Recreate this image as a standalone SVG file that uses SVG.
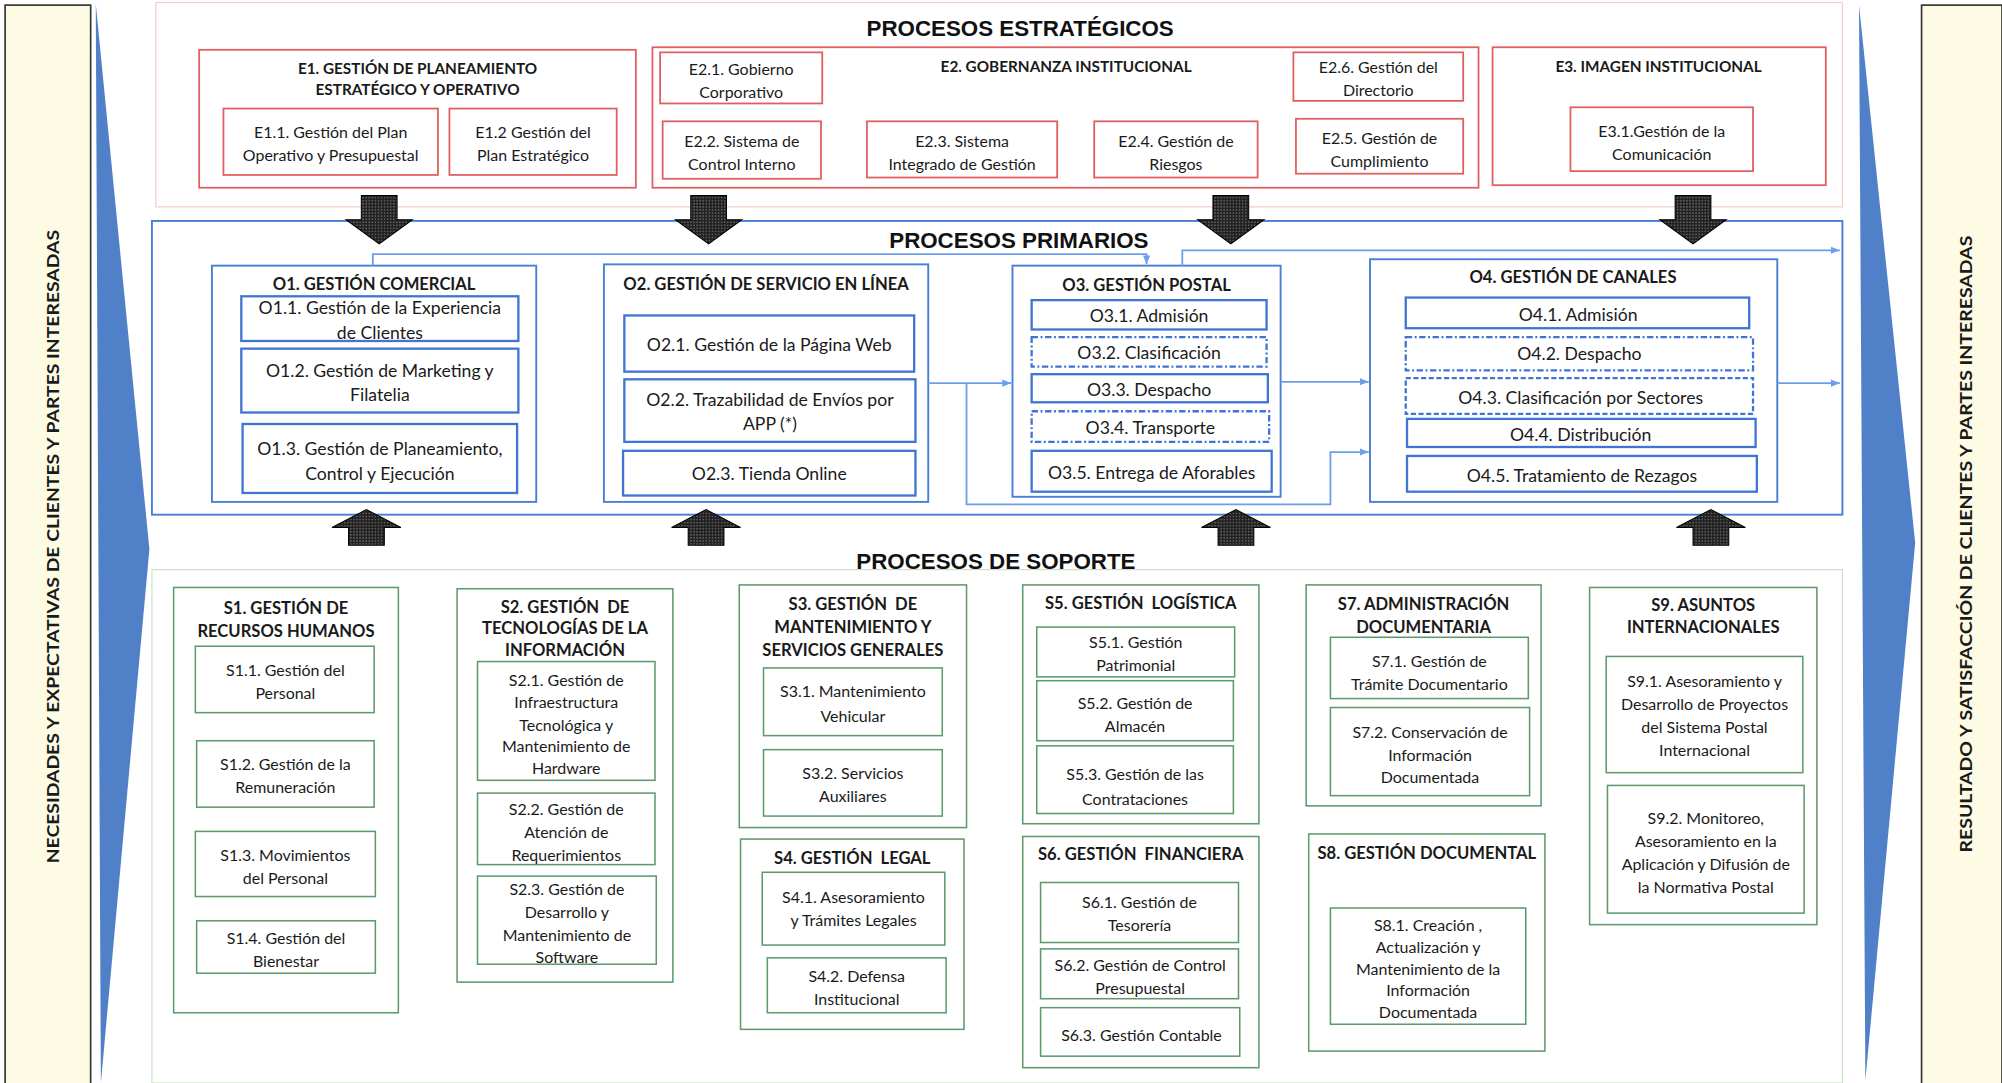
<svg xmlns="http://www.w3.org/2000/svg" width="2002" height="1083" viewBox="0 0 2002 1083">
<defs>
<style>
text{font-family:Lato,"Open Sans","Liberation Sans",sans-serif;text-anchor:middle;dominant-baseline:central;fill:#1a1a1a;font-size:12px}
.h{font-family:"Liberation Sans",Arial,sans-serif;font-weight:bold;font-size:17.5px;fill:#111}
.et{font-weight:bold;font-size:12px}
.e{font-size:12.5px}
.ot{font-weight:bold;font-size:13px}
.o{font-size:13.8px}
.st{font-weight:bold;font-size:13px}
.s{font-size:12.5px}
.side{font-weight:bold;font-size:14px}
.red{fill:#fff;stroke:#e25f5f;stroke-width:1.4}
.redo{fill:#fff;stroke:#f2d2c8;stroke-width:1}
.blue{fill:#fff;stroke:#4a7fd8;stroke-width:1.5}
.bsub{fill:#fff;stroke:#3f74d4;stroke-width:1.8}
.dd{stroke-dasharray:5 2 1.5 2}
.da{stroke-dasharray:4 2}
.green{fill:#fff;stroke:#5c9a6c;stroke-width:1.2}
.greeno{fill:#fff;stroke:#cfe3ca;stroke-width:1}
.sidebox{fill:#fdfbe4;stroke:#333;stroke-width:1.3}
.tri{fill:#4f80c8}
.big{fill:url(#dots);stroke:#000;stroke-width:0.8}
.con{fill:none;stroke:#6d9eeb;stroke-width:1.4}
</style>
<pattern id="dots" width="2.4" height="2.4" patternUnits="userSpaceOnUse"><rect width="2.4" height="2.4" fill="#222"/><circle cx="1.2" cy="1.2" r="0.5" fill="#a8a8a8"/></pattern>
<marker id="ah" viewBox="0 0 10 10" refX="10" refY="5" markerWidth="7" markerHeight="7" orient="auto" markerUnits="userSpaceOnUse"><path d="M0,1 L10,5 L0,9 z" fill="#6d9eeb"/></marker>
</defs>
<rect width="2002" height="1083" fill="#fff"/>
<g transform="scale(1.27679,1.27712)">

<g id="side-left">
<rect class="sidebox" x="4" y="4" width="67" height="850"/>
<text class="side" transform="translate(41,428) rotate(-90)" textLength="496" lengthAdjust="spacingAndGlyphs">NECESIDADES Y EXPECTATIVAS DE CLIENTES Y PARTES INTERESADAS</text>
</g>
<g id="side-right">
<rect class="sidebox" x="1505" y="4" width="63" height="850"/>
<text class="side" transform="translate(1539,426) rotate(-90)" textLength="483" lengthAdjust="spacingAndGlyphs">RESULTADO Y SATISFACCIÓN DE CLIENTES Y PARTES INTERESADAS</text>
</g>
<polygon id="flow-left" class="tri" points="75,3 117,430 79,848"/>
<polygon id="flow-right" class="tri" points="1456,4 1500,425 1461,846"/>

<!-- STRATEGIC -->
<g id="estrategicos">
<rect class="redo" x="122" y="2" width="1321" height="160"/>
<text class="h" x="799" y="22">PROCESOS ESTRATÉGICOS</text>
</g>
<g id="E1">
<rect class="red" x="156" y="39" width="342" height="108"/>
<text class="et" x="327" y="53">E1. GESTIÓN DE PLANEAMIENTO</text>
<text class="et" x="327" y="70">ESTRATÉGICO Y OPERATIVO</text>
</g>
<g id="E1-1"><rect class="red" x="175" y="85" width="168" height="52"/><text class="e" x="259" y="103">E1.1. Gestión del Plan</text><text class="e" x="259" y="121">Operativo y Presupuestal</text></g>
<g id="E1-2"><rect class="red" x="352" y="85" width="131" height="52"/><text class="e" x="417.5" y="103">E1.2 Gestión del</text><text class="e" x="417.5" y="121">Plan Estratégico</text></g>
<g id="E2">
<rect class="red" x="511" y="37" width="647" height="110"/>
<text class="et" x="835" y="52">E2. GOBERNANZA INSTITUCIONAL</text>
</g>
<g id="E2-1"><rect class="red" x="517" y="41" width="127" height="40"/><text class="e" x="580.5" y="54">E2.1. Gobierno</text><text class="e" x="580.5" y="72">Corporativo</text></g>
<g id="E2-2"><rect class="red" x="519" y="95" width="124" height="45"/><text class="e" x="581" y="110">E2.2. Sistema de</text><text class="e" x="581" y="128">Control Interno</text></g>
<g id="E2-3"><rect class="red" x="679" y="95" width="149" height="44"/><text class="e" x="753.5" y="110">E2.3. Sistema</text><text class="e" x="753.5" y="128">Integrado de Gestión</text></g>
<g id="E2-4"><rect class="red" x="857" y="95" width="128" height="44"/><text class="e" x="921" y="110">E2.4. Gestión de</text><text class="e" x="921" y="128">Riesgos</text></g>
<g id="E2-6"><rect class="red" x="1013" y="41" width="133" height="38"/><text class="e" x="1079.5" y="52">E2.6. Gestión del</text><text class="e" x="1079.5" y="70">Directorio</text></g>
<g id="E2-5"><rect class="red" x="1015" y="93" width="131" height="43"/><text class="e" x="1080.5" y="108">E2.5. Gestión de</text><text class="e" x="1080.5" y="126">Cumplimiento</text></g>
<g id="E3">
<rect class="red" x="1169" y="37" width="261" height="108"/>
<text class="et" x="1299" y="52">E3. IMAGEN INSTITUCIONAL</text>
</g>
<g id="E3-1"><rect class="red" x="1230" y="84" width="143" height="50"/><text class="e" x="1301.5" y="102">E3.1.Gestión de la</text><text class="e" x="1301.5" y="120">Comunicación</text></g>

<!-- PRIMARY -->
<g id="primarios">
<rect class="blue" x="119" y="173" width="1324" height="230"/>
<text class="h" x="798" y="188">PROCESOS PRIMARIOS</text>
</g>
<g id="O1">
<rect class="blue" x="166" y="208" width="254" height="185"/>
<text class="ot" x="293" y="222">O1. GESTIÓN COMERCIAL</text>
</g>
<g id="O1-1"><rect class="bsub" x="189" y="232" width="217" height="35"/><text class="o" x="297.5" y="241">O1.1. Gestión de la Experiencia</text><text class="o" x="297.5" y="260">de Clientes</text></g>
<g id="O1-2"><rect class="bsub" x="189" y="273" width="217" height="50"/><text class="o" x="297.5" y="290">O1.2. Gestión de Marketing y</text><text class="o" x="297.5" y="309">Filatelia</text></g>
<g id="O1-3"><rect class="bsub" x="190" y="332" width="215" height="54"/><text class="o" x="297.5" y="351">O1.3. Gestión de Planeamiento,</text><text class="o" x="297.5" y="371">Control y Ejecución</text></g>
<g id="O2">
<rect class="blue" x="473" y="207" width="254" height="186"/>
<text class="ot" x="600" y="222">O2. GESTIÓN DE SERVICIO EN LÍNEA</text>
</g>
<g id="O2-1"><rect class="bsub" x="489" y="247" width="227" height="44"/><text class="o" x="602.5" y="270">O2.1. Gestión de la Página Web</text></g>
<g id="O2-2"><rect class="bsub" x="489" y="297" width="228" height="49"/><text class="o" x="603" y="313">O2.2. Trazabilidad de Envíos por</text><text class="o" x="603" y="332">APP (*)</text></g>
<g id="O2-3"><rect class="bsub" x="488" y="353" width="229" height="35"/><text class="o" x="602.5" y="371">O2.3. Tienda Online</text></g>
<g id="O3">
<rect class="blue" x="793" y="208" width="210" height="181"/>
<text class="ot" x="898" y="223">O3. GESTIÓN POSTAL</text>
</g>
<g id="O3-1"><rect class="bsub" x="808" y="235" width="184" height="23"/><text class="o" x="900" y="247">O3.1. Admisión</text></g>
<g id="O3-2"><rect class="bsub dd" x="808" y="264" width="184" height="23"/><text class="o" x="900" y="276">O3.2. Clasificación</text></g>
<g id="O3-3"><rect class="bsub" x="808" y="293" width="185" height="22"/><text class="o" x="900" y="305">O3.3. Despacho</text></g>
<g id="O3-4"><rect class="bsub dd" x="808" y="322" width="186" height="24"/><text class="o" x="901" y="335">O3.4. Transporte</text></g>
<g id="O3-5"><rect class="bsub" x="808" y="353" width="188" height="32"/><text class="o" x="902" y="370">O3.5. Entrega de Aforables</text></g>
<g id="O4">
<rect class="blue" x="1073" y="203" width="319" height="190"/>
<text class="ot" x="1232" y="217">O4. GESTIÓN DE CANALES</text>
</g>
<g id="O4-1"><rect class="bsub" x="1101" y="233" width="269" height="24"/><text class="o" x="1236" y="246">O4.1. Admisión</text></g>
<g id="O4-2"><rect class="bsub dd" x="1101" y="264" width="272" height="26"/><text class="o" x="1237" y="277">O4.2. Despacho</text></g>
<g id="O4-3"><rect class="bsub da" x="1101" y="296" width="272" height="28"/><text class="o" x="1238" y="311">O4.3. Clasificación por Sectores</text></g>
<g id="O4-4"><rect class="bsub" x="1102" y="328" width="273" height="22"/><text class="o" x="1238" y="340">O4.4. Distribución</text></g>
<g id="O4-5"><rect class="bsub" x="1102" y="357" width="274" height="28"/><text class="o" x="1239" y="372">O4.5. Tratamiento de Rezagos</text></g>

<g id="connectors">
<path class="con" d="M292,208 V199 H898 V207" marker-end="url(#ah)"/>
<path class="con" d="M926,208 V196 H1441" marker-end="url(#ah)"/>
<path class="con" d="M727,300 H792" marker-end="url(#ah)"/>
<path class="con" d="M757,300 V395 H1042 V354 H1072" marker-end="url(#ah)"/>
<path class="con" d="M1003,299 H1072" marker-end="url(#ah)"/>
<path class="con" d="M1392,300 H1441" marker-end="url(#ah)"/>
</g>

<!-- SUPPORT -->
<g id="soporte">
<rect class="greeno" x="119" y="446" width="1324" height="402"/>
<text class="h" x="780" y="440">PROCESOS DE SOPORTE</text>
</g>
<g id="S1">
<rect class="green" x="136" y="460" width="176" height="333"/>
<text class="st" x="224" y="476">S1. GESTIÓN DE</text>
<text class="st" x="224" y="494">RECURSOS HUMANOS</text>
</g>
<g id="S1-1"><rect class="green" x="153" y="506" width="140" height="52"/><text class="s" x="223.5" y="524">S1.1. Gestión del</text><text class="s" x="223.5" y="542">Personal</text></g>
<g id="S1-2"><rect class="green" x="154" y="580" width="139" height="52"/><text class="s" x="223.5" y="598">S1.2. Gestión de la</text><text class="s" x="223.5" y="616">Remuneración</text></g>
<g id="S1-3"><rect class="green" x="153" y="651" width="141" height="51"/><text class="s" x="223.5" y="669">S1.3. Movimientos</text><text class="s" x="223.5" y="687">del Personal</text></g>
<g id="S1-4"><rect class="green" x="154" y="721" width="140" height="41"/><text class="s" x="224" y="734">S1.4. Gestión del</text><text class="s" x="224" y="752">Bienestar</text></g>
<g id="S2">
<rect class="green" x="358" y="461" width="169" height="308"/>
<text class="st" x="442.5" y="475" xml:space="preserve">S2. GESTIÓN  DE</text>
<text class="st" x="442.5" y="492">TECNOLOGÍAS DE LA</text>
<text class="st" x="442.5" y="509">INFORMACIÓN</text>
</g>
<g id="S2-1"><rect class="green" x="374" y="518" width="139" height="93"/><text class="s" x="443.5" y="532">S2.1. Gestión de</text><text class="s" x="443.5" y="549">Infraestructura</text><text class="s" x="443.5" y="567">Tecnológica y</text><text class="s" x="443.5" y="584">Mantenimiento de</text><text class="s" x="443.5" y="601">Hardware</text></g>
<g id="S2-2"><rect class="green" x="374" y="621" width="139" height="56"/><text class="s" x="443.5" y="633">S2.2. Gestión de</text><text class="s" x="443.5" y="651">Atención de</text><text class="s" x="443.5" y="669">Requerimientos</text></g>
<g id="S2-3"><rect class="green" x="374" y="686" width="140" height="69"/><text class="s" x="444" y="696">S2.3. Gestión de</text><text class="s" x="444" y="714">Desarrollo y</text><text class="s" x="444" y="732">Mantenimiento de</text><text class="s" x="444" y="749">Software</text></g>
<g id="S3">
<rect class="green" x="579" y="458" width="178" height="190"/>
<text class="st" x="668" y="473" xml:space="preserve">S3. GESTIÓN  DE</text>
<text class="st" x="668" y="491">MANTENIMIENTO Y</text>
<text class="st" x="668" y="509">SERVICIOS GENERALES</text>
</g>
<g id="S3-1"><rect class="green" x="598" y="523" width="140" height="53"/><text class="s" x="668" y="541">S3.1. Mantenimiento</text><text class="s" x="668" y="560">Vehicular</text></g>
<g id="S3-2"><rect class="green" x="598" y="587" width="140" height="52"/><text class="s" x="668" y="605">S3.2. Servicios</text><text class="s" x="668" y="623">Auxiliares</text></g>
<g id="S4">
<rect class="green" x="580" y="657" width="175" height="149"/>
<text class="st" x="667.5" y="672" xml:space="preserve">S4. GESTIÓN  LEGAL</text>
</g>
<g id="S4-1"><rect class="green" x="597" y="683" width="143" height="57"/><text class="s" x="668.5" y="702">S4.1. Asesoramiento</text><text class="s" x="668.5" y="720">y Trámites Legales</text></g>
<g id="S4-2"><rect class="green" x="601" y="750" width="140" height="43"/><text class="s" x="671" y="764">S4.2. Defensa</text><text class="s" x="671" y="782">Institucional</text></g>
<g id="S5">
<rect class="green" x="801" y="458" width="185" height="187"/>
<text class="st" x="893.5" y="472" xml:space="preserve">S5. GESTIÓN  LOGÍSTICA</text>
</g>
<g id="S5-1"><rect class="green" x="812" y="491" width="155" height="39"/><text class="s" x="889.5" y="502">S5.1. Gestión</text><text class="s" x="889.5" y="520">Patrimonial</text></g>
<g id="S5-2"><rect class="green" x="812" y="533" width="154" height="47"/><text class="s" x="889" y="550">S5.2. Gestión de</text><text class="s" x="889" y="568">Almacén</text></g>
<g id="S5-3"><rect class="green" x="812" y="584" width="154" height="53"/><text class="s" x="889" y="606">S5.3. Gestión de las</text><text class="s" x="889" y="625">Contrataciones</text></g>
<g id="S6">
<rect class="green" x="801" y="655" width="185" height="181"/>
<text class="st" x="893.5" y="669" xml:space="preserve">S6. GESTIÓN  FINANCIERA</text>
</g>
<g id="S6-1"><rect class="green" x="815" y="691" width="155" height="47"/><text class="s" x="892.5" y="706">S6.1. Gestión de</text><text class="s" x="892.5" y="724">Tesorería</text></g>
<g id="S6-2"><rect class="green" x="815" y="743" width="155" height="39"/><text class="s" x="893" y="755">S6.2. Gestión de Control</text><text class="s" x="893" y="773">Presupuestal</text></g>
<g id="S6-3"><rect class="green" x="815" y="789" width="156" height="38"/><text class="s" x="894" y="810">S6.3. Gestión Contable</text></g>
<g id="S7">
<rect class="green" x="1023" y="458" width="184" height="173"/>
<text class="st" x="1115" y="473">S7. ADMINISTRACIÓN</text>
<text class="st" x="1115" y="491">DOCUMENTARIA</text>
</g>
<g id="S7-1"><rect class="green" x="1042" y="499" width="155" height="48"/><text class="s" x="1119.5" y="517">S7.1. Gestión de</text><text class="s" x="1119.5" y="535">Trámite Documentario</text></g>
<g id="S7-2"><rect class="green" x="1042" y="554" width="156" height="69"/><text class="s" x="1120" y="573">S7.2. Conservación de</text><text class="s" x="1120" y="591">Información</text><text class="s" x="1120" y="608">Documentada</text></g>
<g id="S8">
<rect class="green" x="1025" y="653" width="185" height="170"/>
<text class="st" x="1117.5" y="668">S8. GESTIÓN DOCUMENTAL</text>
</g>
<g id="S8-1"><rect class="green" x="1042" y="711" width="153" height="91"/><text class="s" x="1118.5" y="724">S8.1. Creación ,</text><text class="s" x="1118.5" y="741">Actualización y</text><text class="s" x="1118.5" y="758">Mantenimiento de la</text><text class="s" x="1118.5" y="775">Información</text><text class="s" x="1118.5" y="792">Documentada</text></g>
<g id="S9">
<rect class="green" x="1245" y="460" width="178" height="264"/>
<text class="st" x="1334" y="474">S9. ASUNTOS</text>
<text class="st" x="1334" y="491">INTERNACIONALES</text>
</g>
<g id="S9-1"><rect class="green" x="1258" y="514" width="154" height="91"/><text class="s" x="1335" y="533">S9.1. Asesoramiento y</text><text class="s" x="1335" y="551">Desarrollo de Proyectos</text><text class="s" x="1335" y="569">del Sistema Postal</text><text class="s" x="1335" y="587">Internacional</text></g>
<g id="S9-2"><rect class="green" x="1259" y="615" width="154" height="100"/><text class="s" x="1336" y="640">S9.2. Monitoreo,</text><text class="s" x="1336" y="658">Asesoramiento en la</text><text class="s" x="1336" y="676">Aplicación y Difusión de</text><text class="s" x="1336" y="694">la Normativa Postal</text></g>

<g id="block-arrows">
<path class="big" d="M283,153 H311 V172 H323 L297,191 L271,172 H283 Z"/>
<path class="big" d="M541,153 H569 V172 H581 L555,191 L529,172 H541 Z"/>
<path class="big" d="M950,153 H978 V172 H990 L964,191 L938,172 H950 Z"/>
<path class="big" d="M1312,153 H1340 V172 H1352 L1326,191 L1300,172 H1312 Z"/>
<path class="big" d="M273,427 H301 V413 H314 L287,399 L260,413 H273 Z"/>
<path class="big" d="M539,427 H567 V413 H580 L553,399 L526,413 H539 Z"/>
<path class="big" d="M954,427 H982 V413 H995 L968,399 L941,413 H954 Z"/>
<path class="big" d="M1326,427 H1354 V413 H1367 L1340,399 L1313,413 H1326 Z"/>
</g>
</g>
</svg>
